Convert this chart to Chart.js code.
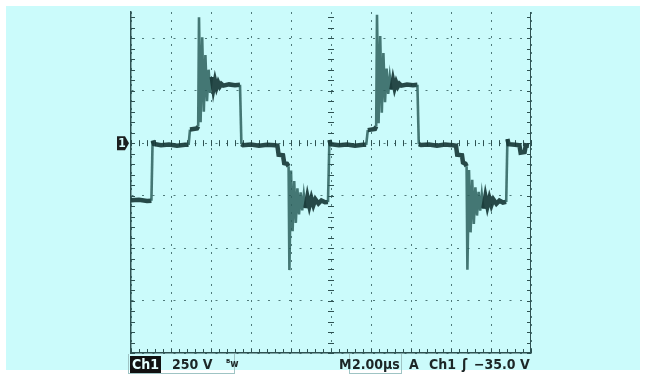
<!DOCTYPE html>
<html>
<head>
<meta charset="utf-8">
<script src="https://cdn.jsdelivr.net/npm/chart.js@4"></script>
<style>
  html, body { margin: 0; padding: 0; background: #ffffff; }
  #screen { position: absolute; left: 6px; top: 6px; width: 634px; height: 364px; background: #cbfbfb; }
  #wrap { position: absolute; left: 0; top: 0; width: 646px; height: 376px; }
  .lbl { position: absolute; top: 356px; font-family: "DejaVu Sans Condensed", "Liberation Sans Narrow", sans-serif;
         font-weight: bold; font-size: 14px; color: #1c2626; line-height: 17px; white-space: nowrap; }
  .box { position: absolute; border: 1px solid #9fc4c4; }
</style>
</head>
<body>
<div id="screen"></div>
<div id="wrap"><canvas id="scope"></canvas></div>
<div class="box" style="left:128px;top:354px;width:105px;height:19px;border-top:none;"></div>
<div class="box" style="left:349px;top:354px;width:51px;height:19px;border-top:none;"></div>
<div class="lbl" style="left:130px;background:#111;color:#e6ffff;padding:0 2px;">Ch1</div>
<div class="lbl" style="left:172px;">250 V</div>
<div class="lbl" style="left:226px;font-size:10px;top:355px;">ᴮw</div>
<div class="lbl" style="left:339px;">M</div>
<div class="lbl" style="left:352px;">2.00µs</div>
<div class="lbl" style="left:409px;">A</div>
<div class="lbl" style="left:429px;">Ch1</div>
<div class="lbl" style="left:462px;">ʃ</div>
<div class="lbl" style="left:474px;">−35.0 V</div>
<script>
// Ch1 trace, time in µs, voltage in V (250 V/div, 2 µs/div)
const timeUs = [
  0.00, 0.40, 0.80, 1.02, 1.08, 1.15, 1.50, 1.90, 2.30, 2.70, 2.88, 2.95, 3.30, 3.36,
  3.40, 3.48, 3.56, 3.64, 3.72, 3.80, 3.88, 3.96, 4.04, 4.12, 4.20, 4.28, 4.36, 4.44, 4.52, 4.62,
  4.90, 5.20, 5.45, 5.52, 5.60, 6.00, 6.40, 6.80, 7.20, 7.32, 7.38, 7.60, 7.66, 7.80, 7.88,
  7.92, 8.00, 8.08, 8.16, 8.24, 8.32, 8.40, 8.48, 8.56, 8.64, 8.72, 8.82, 8.92, 9.02, 9.12, 9.22, 9.37, 9.52, 9.70,
  9.85, 9.92, 9.98,
  10.40, 10.80, 11.20, 11.60, 11.76, 11.84, 12.20, 12.26,
  12.30, 12.38, 12.46, 12.54, 12.62, 12.70, 12.78, 12.86, 12.94, 13.02, 13.10, 13.18, 13.26, 13.34, 13.42, 13.52,
  13.80, 14.10, 14.32, 14.39, 14.50, 14.90, 15.30, 15.70, 16.10, 16.25, 16.31, 16.55, 16.60, 16.72, 16.78,
  16.82, 16.90, 16.98, 17.06, 17.14, 17.22, 17.30, 17.38, 17.46, 17.54, 17.62, 17.72, 17.82, 17.92, 18.02, 18.12, 18.27, 18.42, 18.60,
  18.76, 18.82, 18.88, 19.20, 19.42, 19.48, 19.68, 19.74, 19.90
];
const volts = [
  -272, -270, -276, -274, 12, -4, -10, -6, -12, -8, -8, 65, 70, 80,
  600, 100, 505, 150, 420, 200, 350, 240, 315, 258, 298, 265, 288, 270, 282, 274,
  280, 276, 278, -5, -10, -6, -12, -8, -10, -12, -55, -58, -95, -98, -110,
  -605, -130, -420, -180, -380, -215, -340, -235, -320, -245, -310, -255, -300, -262, -295, -268, -288, -273, -282,
  -281, 15, -5,
  -10, -6, -12, -8, -8, 62, 68, 80,
  612, 95, 510, 145, 430, 195, 355, 235, 318, 255, 300, 263, 290, 270, 283, 274,
  279, 276, 278, -5, -9, -6, -12, -7, -10, -12, -55, -58, -92, -98, -110,
  -603, -128, -425, -175, -385, -210, -345, -232, -322, -244, -312, -254, -302, -262, -296, -268, -289, -274, -283,
  -280, 20, -5, -8, -10, -45, -42, -10, -12
];
const xTicks = [0, 2, 4, 6, 8, 10, 12, 14, 16, 18, 20];
const yTicks = [-1000, -750, -500, -250, 0, 250, 500];

const gridColor = '#4f7a7a';

// fast edges and ringing look thinner and paler on the scope
const steep = c => Math.abs(c.p1.parsed.y - c.p0.parsed.y) > 60;

const scopeDecor = {
  id: 'scopeDecor',
  beforeDatasetsDraw(chart) {
    const { ctx, chartArea: a, scales: { x, y } } = chart;
    ctx.save();
    ctx.strokeStyle = '#2e5252';
    ctx.lineWidth = 1;
    // right frame edge
    ctx.beginPath();
    ctx.moveTo(x.getPixelForValue(20) - 0.5, a.top);
    ctx.lineTo(x.getPixelForValue(20) - 0.5, a.bottom);
    ctx.stroke();
    const cx = x.getPixelForValue(10), cy = y.getPixelForValue(0);
    ctx.beginPath();
    // minor ticks on vertical lines (left, center, right)
    for (let v = -1000; v <= 625; v += 50) {
      const py = Math.round(y.getPixelForValue(v)) + 0.5;
      ctx.moveTo(a.left, py); ctx.lineTo(a.left + 4, py);
      ctx.moveTo(cx - 3, py); ctx.lineTo(cx + 3, py);
      ctx.moveTo(a.right - 4, py); ctx.lineTo(a.right, py);
    }
    // minor ticks on horizontal lines (bottom, center)
    for (let t = 0; t <= 20; t += 0.4) {
      const px = Math.round(x.getPixelForValue(t)) + 0.5;
      ctx.moveTo(px, a.bottom); ctx.lineTo(px, a.bottom - 4);
      ctx.moveTo(px, cy - 3); ctx.lineTo(px, cy + 3);
    }
    ctx.stroke();
    // channel 1 ground marker
    const mx = a.left - 14;
    ctx.fillStyle = '#1b1f1f';
    ctx.beginPath();
    ctx.moveTo(mx, cy - 7); ctx.lineTo(mx + 8, cy - 7); ctx.lineTo(mx + 12, cy);
    ctx.lineTo(mx + 8, cy + 7); ctx.lineTo(mx, cy + 7); ctx.closePath();
    ctx.fill();
    ctx.fillStyle = '#d8ffff';
    ctx.font = 'bold 12px "DejaVu Sans Condensed", sans-serif';
    ctx.textAlign = 'center';
    ctx.textBaseline = 'middle';
    ctx.fillText('1', mx + 5, cy + 1);
    ctx.restore();
  }
};

new Chart(document.getElementById('scope'), {
  type: 'line',
  data: {
    datasets: [{
      data: timeUs.map((t, i) => ({ x: t, y: volts[i] })),
      borderColor: 'rgba(24, 58, 56, 0.92)',
      borderWidth: 4.5,
      pointRadius: 0,
      tension: 0,
      segment: {
        borderColor: c => steep(c) ? 'rgba(45, 95, 92, 0.85)' : undefined,
        borderWidth: c => steep(c) ? 2.6 : undefined
      }
    }]
  },
  options: {
    responsive: true,
    maintainAspectRatio: false,
    animation: false,
    events: [],
    layout: { padding: { left: 131, right: 115, top: 12, bottom: 23 } },
    plugins: { legend: { display: false }, tooltip: { enabled: false } },
    scales: {
      x: {
        type: 'linear', min: 0, max: 20,
        afterBuildTicks: s => { s.ticks = xTicks.map(v => ({ value: v })); },
        ticks: { display: false },
        grid: { color: gridColor, lineWidth: 1, drawTicks: false },
        border: { display: true, color: '#2e5252', width: 1.5, dash: [2, 6] }
      },
      y: {
        type: 'linear', min: -1000, max: 625,
        afterBuildTicks: s => { s.ticks = yTicks.map(v => ({ value: v })); },
        ticks: { display: false },
        grid: { color: gridColor, lineWidth: 1, drawTicks: false },
        border: { display: true, color: '#2e5252', width: 1.5, dash: [2, 8.5] }
      }
    }
  },
  plugins: [scopeDecor]
});
</script>
</body>
</html>
